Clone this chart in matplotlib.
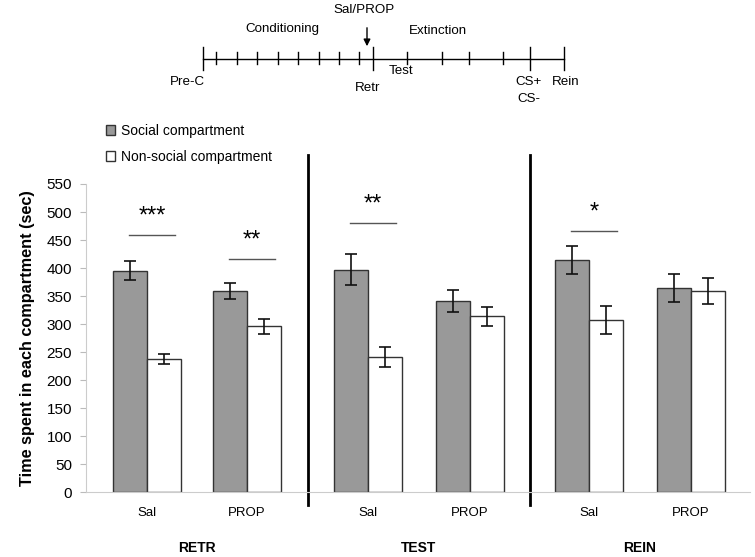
import matplotlib.pyplot as plt

plt.rcParams['font.family'] = ['Liberation Sans', 'DejaVu Sans']

# data
groups = ["RETR", "TEST", "REIN"]
treatments = ["Sal", "PROP", "Sal", "PROP", "Sal", "PROP"]
social = [395, 359, 397, 341, 414, 364]
social_err = [17, 15, 28, 20, 25, 25]
nonsocial = [238, 296, 241, 314, 307, 359]
nonsocial_err = [9, 13, 18, 17, 25, 23]
stars = ["***", "**", "**", "", "*", ""]
star_line = [459, 416, 480, None, 466, None]

xpos = [0, 1, 2.21, 3.23, 4.42, 5.44]
w = 0.34

fig = plt.figure(figsize=(7.55, 5.57), dpi=100)
ax = fig.add_axes([86 / 755, 1 - 492 / 557, 664 / 755, 308 / 557])

# bars
ax.bar([x - w / 2 for x in xpos], social, w, yerr=social_err, color='#999999',
       edgecolor='#333333', linewidth=1.0, capsize=4.5,
       error_kw=dict(elinewidth=1.2, capthick=1.2, ecolor='#111111'),
       label='Social compartment')
ax.bar([x + w / 2 for x in xpos], nonsocial, w, yerr=nonsocial_err, color='white',
       edgecolor='#333333', linewidth=1.0, capsize=4.5,
       error_kw=dict(elinewidth=1.2, capthick=1.2, ecolor='#111111'),
       label='Non-social compartment')

# significance
for x, s, yl in zip(xpos, stars, star_line):
    if not s:
        continue
    ax.plot([x - 0.18, x + 0.28], [yl, yl], color='#555555', lw=1, clip_on=False)
    ax.text(x + 0.05, yl + 13, s, ha='center', va='bottom', fontsize=17)

ax.set_xlim(-0.61, 6.03)
ax.set_ylim(0, 550)
ax.set_yticks(range(0, 551, 50))
ax.set_xticks(xpos)
ax.set_xticklabels(treatments, fontsize=9.5)
ax.tick_params(axis='x', length=0, pad=11)
ax.tick_params(axis='y', labelsize=11, length=4, color='#bbbbbb', pad=6)
for side in ['top', 'right']:
    ax.spines[side].set_visible(False)
for side in ['left', 'bottom']:
    ax.spines[side].set_color('#cccccc')
    ax.spines[side].set_linewidth(0.8)

ax.set_ylabel('Time spent in each compartment (sec)', fontsize=11.7,
              fontweight='bold', labelpad=8)

# separators between stages
for xs in [(xpos[1] + xpos[2]) / 2, (xpos[3] + xpos[4]) / 2]:
    ax.plot([xs, xs], [-23, 602], color='black', lw=2, clip_on=False)

# stage labels
for i, g in enumerate(groups):
    xc = (xpos[2 * i] + xpos[2 * i + 1]) / 2
    ax.text(xc, -100, g, ha='center', va='center', fontsize=10, fontweight='bold')

# legend
fig.legend(loc='upper left', bbox_to_anchor=(100 / 755, 1 - 118 / 557), frameon=False,
           fontsize=10, handlelength=0.7, handleheight=0.7, handletextpad=0.4,
           labelspacing=0.9, borderaxespad=0)

# timeline schematic (pixel coordinates of the figure)
tl = fig.add_axes([0, 0, 1, 1], zorder=-1)
tl.set_xlim(0, 755)
tl.set_ylim(557, 0)
tl.axis('off')
major = [203, 373, 530, 564]
minor = [216, 237, 257, 278, 298, 319, 339, 359, 407, 442, 469, 503]
tl.plot([203, 564], [59, 59], color='black', lw=1)
for t in major:
    tl.plot([t, t], [47, 70], color='black', lw=1)
for t in minor:
    tl.plot([t, t], [52, 64], color='black', lw=1)
tl.annotate('', xy=(367, 49), xytext=(367, 25),
            arrowprops=dict(arrowstyle='-|>', color='black', lw=1, mutation_scale=10))
tf = 9.6
tl.text(364, 10, 'Sal/PROP', ha='center', va='center', fontsize=tf)
tl.text(282, 29, 'Conditioning', ha='center', va='center', fontsize=tf)
tl.text(438, 31, 'Extinction', ha='center', va='center', fontsize=tf)
tl.text(187, 82, 'Pre-C', ha='center', va='center', fontsize=tf)
tl.text(401, 71, 'Test', ha='center', va='center', fontsize=tf)
tl.text(368, 88, 'Retr', ha='center', va='center', fontsize=tf)
tl.text(529, 82, 'CS+', ha='center', va='center', fontsize=tf)
tl.text(529, 99, 'CS-', ha='center', va='center', fontsize=tf)
tl.text(566, 82, 'Rein', ha='center', va='center', fontsize=tf)

fig.savefig('out.png', dpi=100)
